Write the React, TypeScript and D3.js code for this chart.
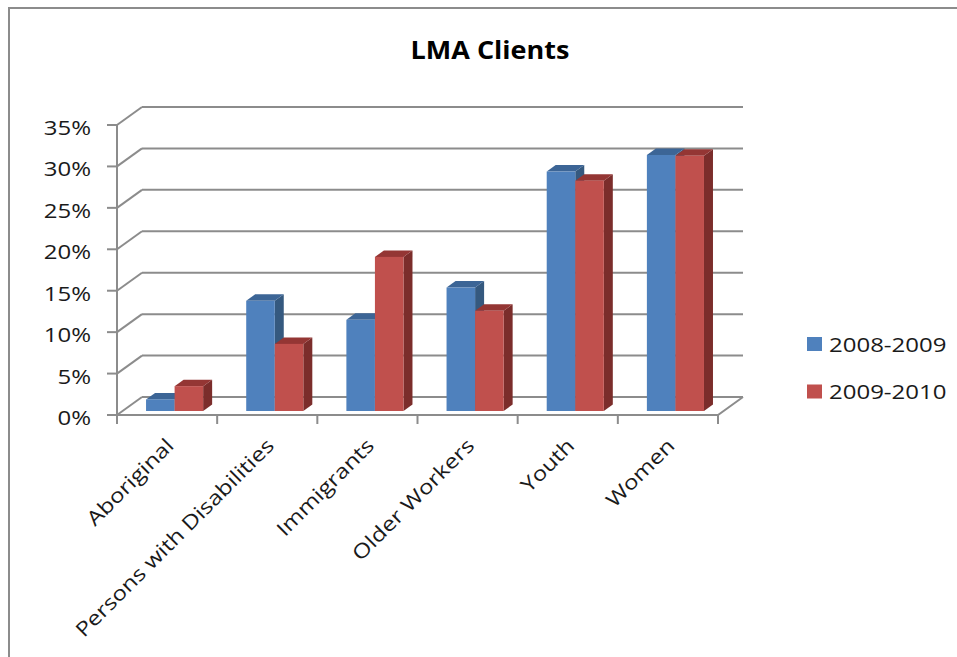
import * as d3 from 'd3';
import React, { useRef, useEffect } from 'react';

const categories = ['Aboriginal', 'Persons with Disabilities', 'Immigrants', 'Older Workers', 'Youth', 'Women'];
const seriesNames = ['2008-2009', '2009-2010'];
const values2008 = [1.4, 13.3, 11.0, 14.9, 28.9, 30.9];
const values2009 = [3.0, 8.1, 18.6, 12.1, 27.8, 30.8];
const yTicks = [0, 5, 10, 15, 20, 25, 30, 35];

const frontColors = ['#4f81bd', '#c0504d'];
const topColors = ['#3c6596', '#943634'];
const sideColors = ['#35597f', '#7b2d2b'];

function App() {

    const ref = useRef();

    useEffect(() => {
        const svg = d3.select(ref.current);
        svg.selectAll('*').remove();

        const font = "'Open Sans', sans-serif";
        const grid = '#8c8c8c';
        const stretch = 1.2; // the original text is a little wide

        // wall depth offset (back wall is up and to the right)
        const depthX = 25, depthY = -18;
        // bar depth
        const barDX = 9, barDY = -6.5;

        const x = d3.scaleBand()
            .domain(categories)
            .range([117, 718]);

        const y = d3.scaleLinear()
            .domain([0, 35])
            .range([415, 125]);

        const label = (tx, ty, str, anchor, rot = 0) =>
            svg.append('text')
                .attr('transform', `translate(${tx},${ty}) rotate(${rot}) scale(${stretch},1)`)
                .attr('text-anchor', anchor)
                .attr('font-family', font)
                .attr('font-size', 20)
                .attr('fill', '#1a1a1a')
                .text(str);

        // chart frame (only left and top edges show)
        svg.append('path')
            .attr('d', 'M9,700V8H1000')
            .attr('fill', 'none')
            .attr('stroke', grid)
            .attr('stroke-width', 2);

        svg.append('text')
            .attr('transform', 'translate(490,59) scale(1.08,1)')
            .attr('text-anchor', 'middle')
            .attr('font-family', font)
            .attr('font-weight', 'bold')
            .attr('font-size', 25)
            .text('LMA Clients');

        const x0 = x.range()[0], x1 = x.range()[1];

        // back wall gridlines and left wall diagonals
        yTicks.forEach(v => {
            svg.append('line')
                .attr('x1', x0 + depthX).attr('x2', x1 + depthX)
                .attr('y1', y(v) + depthY).attr('y2', y(v) + depthY)
                .attr('stroke', grid).attr('stroke-width', 2);
            svg.append('line')
                .attr('x1', x0).attr('x2', x0 + depthX)
                .attr('y1', y(v)).attr('y2', y(v) + depthY)
                .attr('stroke', grid).attr('stroke-width', 2);
            svg.append('line')
                .attr('x1', x0 - 10).attr('x2', x0)
                .attr('y1', y(v)).attr('y2', y(v))
                .attr('stroke', grid).attr('stroke-width', 2);
            label(91, y(v) + 10, v + '%', 'end');
        });

        // vertical axis
        svg.append('line')
            .attr('x1', x0).attr('x2', x0)
            .attr('y1', y(35)).attr('y2', y(0))
            .attr('stroke', grid).attr('stroke-width', 2);

        // floor: front edge and right edge
        svg.append('path')
            .attr('d', `M${x0},${y(0)}L${x1},${y(0)}L${x1 + depthX},${y(0) + depthY}`)
            .attr('fill', 'none')
            .attr('stroke', grid).attr('stroke-width', 2);

        // category ticks
        const tickPos = categories.map(c => x(c)).concat([x1]);
        tickPos.forEach(t => {
            svg.append('line')
                .attr('x1', t).attr('x2', t)
                .attr('y1', y(0)).attr('y2', y(0) + 9)
                .attr('stroke', grid).attr('stroke-width', 2);
        });

        // bars
        const bw = x.bandwidth();
        const base = y(0) - 4;
        const series = [values2008, values2009];
        categories.forEach((c, i) => {
            series.forEach((vals, s) => {
                const left = x(c) + bw * (0.29 + 0.285 * s);
                const w = bw * 0.285;
                const h = y(0) - y(vals[i]);
                const top = base - h;
                const g = svg.append('g');
                // side
                g.append('path')
                    .attr('d', `M${left + w},${top}L${left + w + barDX},${top + barDY}L${left + w + barDX},${base + barDY}L${left + w},${base}Z`)
                    .attr('fill', sideColors[s]);
                // top
                g.append('path')
                    .attr('d', `M${left},${top}L${left + barDX},${top + barDY}L${left + w + barDX},${top + barDY}L${left + w},${top}Z`)
                    .attr('fill', topColors[s]);
                // front
                g.append('rect')
                    .attr('x', left).attr('y', top)
                    .attr('width', w).attr('height', h)
                    .attr('fill', frontColors[s]);
            });
        });

        // category labels
        categories.forEach(c => {
            label(x(c) + bw / 2 + 8, 447, c, 'end', -45);
        });

        // legend
        seriesNames.forEach((name, s) => {
            const ly = 344 + s * 47.5;
            svg.append('rect')
                .attr('x', 807).attr('y', ly - 7)
                .attr('width', 15).attr('height', 14)
                .attr('fill', frontColors[s]);
            label(829, ly + 7.5, name, 'start');
        });
    }, []);

    return (
        <svg ref={ref} width={957} height={657}
             style={{ position: 'absolute', left: 0, top: 0 }} />
    );
}

export default App;
